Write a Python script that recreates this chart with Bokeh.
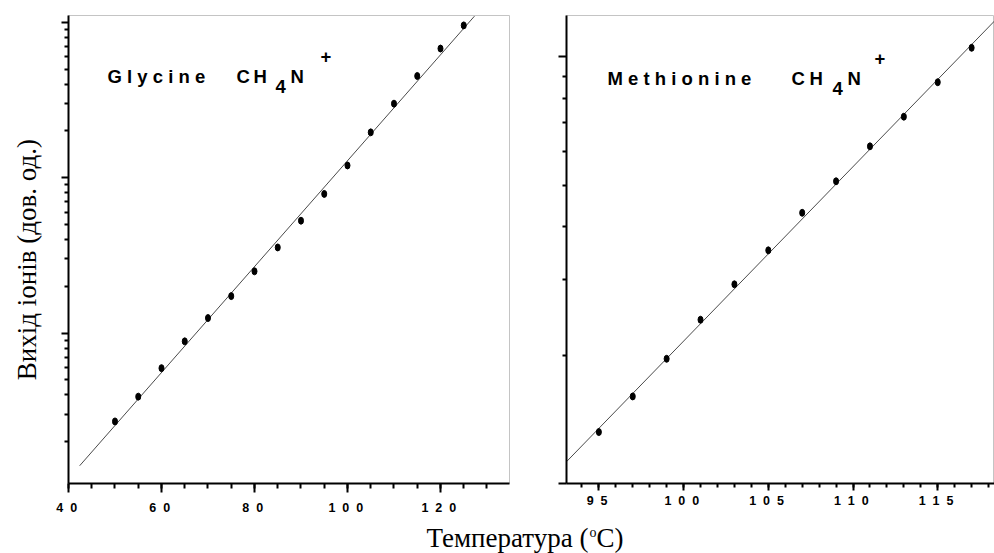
import math
from bokeh.plotting import figure
from bokeh.models import Range1d, Label, FixedTicker, SingleIntervalTicker
from bokeh.layouts import row, column
from bokeh.embed import file_html
from bokeh.resources import INLINE

# ---------------- data ----------------
glycine_temp = [50, 55, 60, 65, 70, 75, 80, 85, 90, 95, 100, 105, 110, 115, 120, 125]
glycine_yield = [2.70, 3.90, 5.95, 8.85, 12.5, 17.3, 25.0, 35.6, 52.9, 78.7, 120, 196, 300, 452, 679, 957]
glycine_fit_temp = [42.4, 127.3]
glycine_fit_yield = [1.40, 1097]

methionine_temp = [95, 97, 99, 101, 103, 105, 107, 109, 111, 113, 115, 117]
methionine_yield = [1.32, 1.60, 1.96, 2.42, 2.93, 3.52, 4.31, 5.11, 6.17, 7.24, 8.72, 10.5]
methionine_fit_temp = [93.09, 119.0]
methionine_fit_yield = [1.125, 12.9]

left_xticks = [40, 60, 80, 100, 120]
left_xtick_labels = ["4 0", "6 0", "8 0", "1 0 0", "1 2 0"]
right_xticks = [95, 100, 105, 110, 115]
right_xtick_labels = ["9 5", "1 0 0", "1 0 5", "1 1 0", "1 1 5"]
left_ydecades = [1, 10, 100, 1000]
right_ydecades = [1, 10]
right_ytick_values = [10, 1]
right_ytick_labels = ["10", "1"]

y_label = "Вихід іонів (дов. од.)"
x_label_main = "Температура ("
x_label_sup = "o"
x_label_end = "C)"

# ---------------- geometry ----------------
L1, R1, T1, B1 = 68, 509, 15, 487
X1 = (40, 134.84)
Y1 = (1.076, 1108)
L2, R2, T2, B2 = 566, 994, 11, 483
X2 = (93.09, 118.35)
Y2 = (1.0, 12.5)
ROW_H = 520

def spaced(s):
    return s.replace(" ", "\u00a0\u00a0") + "\u00a0"

def px_x(px, L, R, rng):
    return rng[0] + (px - L) * (rng[1] - rng[0]) / (R - L)

def px_ylog(py, T, B, rng):
    a, b = math.log10(rng[0]), math.log10(rng[1])
    return 10 ** (a + (B - py) * (b - a) / (B - T))

def log_minors(decades):
    return [d * k for d in decades for k in range(2, 10)]

TICK_FONT = "Liberation Sans"
TITLE_FONT = "Liberation Sans"
SERIF = "Liberation Serif"


def style_axes(p):
    p.grid.visible = False
    for ax in p.axis:
        ax.axis_line_color = "black"
        ax.axis_line_width = 2
        ax.major_tick_line_color = "black"
        ax.minor_tick_line_color = "black"
        ax.major_tick_line_width = 2
        ax.minor_tick_line_width = 2
        ax.major_tick_in = 0
        ax.minor_tick_in = 0
        ax.major_label_text_font = TICK_FONT
        ax.major_label_text_font_style = "bold"
        ax.major_label_text_font_size = "12.5px"
        ax.major_label_text_color = "black"


def hide_labels(ax):
    ax.major_label_text_font_size = "1px"
    ax.major_label_text_alpha = 0
    ax.major_label_standoff = 0


# ---------------- left panel ----------------
p1 = figure(width=543, height=ROW_H, x_range=Range1d(*X1), y_range=Range1d(*Y1),
            y_axis_type="log", output_backend="svg", toolbar_location=None,
            min_border_left=L1, min_border_right=543 - R1, min_border_top=T1,
            min_border_bottom=ROW_H - B1)
style_axes(p1)
p1.outline_line_color = "#c4c4c4"
p1.outline_line_width = 1
p1.xaxis.ticker = SingleIntervalTicker(interval=20, num_minor_ticks=4)
p1.xaxis.major_label_overrides = {t: spaced(s) for t, s in zip(left_xticks, left_xtick_labels)}
p1.xaxis.major_tick_out = 9
p1.xaxis.minor_tick_out = 5
p1.xaxis.major_label_standoff = 8
p1.yaxis.ticker = FixedTicker(ticks=left_ydecades, minor_ticks=log_minors(left_ydecades))
p1.yaxis.major_tick_out = 7
p1.yaxis.minor_tick_out = 4
for ax in p1.yaxis:
    hide_labels(ax)
    ax.axis_label = y_label + "\u00a0\u00a0\u00a0"
    ax.axis_label_text_font = SERIF
    ax.axis_label_text_font_style = "normal"
    ax.axis_label_text_font_size = "27px"
    ax.axis_label_text_color = "black"
    ax.axis_label_standoff = 20

p1.line(glycine_fit_temp, glycine_fit_yield, line_color="#4a4a4a", line_width=1)
p1.ellipse(glycine_temp, glycine_yield, width=5, height=7, width_units="screen",
           height_units="screen", fill_color="black", line_color="black")

def title_parts(p, fx, fy, word, wx, wy, cx, hx, fourx, fourb, nx, plusx, plusy):
    common = dict(text_font=TITLE_FONT, text_font_style="bold", text_font_size="18.5px",
                  text_color="black", text_baseline="alphabetic", text_align="left")
    p.add_layout(Label(x=fx(wx), y=fy(wy), text=word, **common))
    p.add_layout(Label(x=fx(cx), y=fy(wy), text="C", **common))
    p.add_layout(Label(x=fx(hx), y=fy(wy), text="H", **common))
    p.add_layout(Label(x=fx(fourx), y=fy(fourb), text="4", **common))
    p.add_layout(Label(x=fx(nx), y=fy(wy), text="N", **common))
    c2 = dict(common)
    c2["text_baseline"] = "middle"
    p.add_layout(Label(x=fx(plusx), y=fy(plusy), text="+", **c2))

f1x = lambda px: px_x(px, L1, R1, X1)
f1y = lambda py: px_ylog(py, T1, B1, Y1)
title_parts(p1, f1x, f1y, "G l y c i n e", 107, 77, 236, 253, 275, 87, 290, 320, 56)

# ---------------- right panel ----------------
W2 = 994 - 543
p2 = figure(width=W2, height=ROW_H, x_range=Range1d(*X2), y_range=Range1d(*Y2),
            y_axis_type="log", output_backend="svg", toolbar_location=None,
            min_border_left=L2 - 543, min_border_right=0, min_border_top=T2,
            min_border_bottom=ROW_H - B2)
style_axes(p2)
p2.outline_line_color = "#c4c4c4"
p2.outline_line_width = 1
p2.xaxis.ticker = SingleIntervalTicker(interval=5, num_minor_ticks=5)
p2.xaxis.major_label_overrides = {t: spaced(s) for t, s in zip(right_xticks, right_xtick_labels)}
p2.xaxis.major_tick_out = 7
p2.xaxis.minor_tick_out = 4
p2.xaxis.major_label_standoff = 3
p2.yaxis.ticker = FixedTicker(ticks=right_ydecades, minor_ticks=log_minors(right_ydecades))
p2.yaxis.major_tick_out = 8
p2.yaxis.minor_tick_out = 4
for ax in p2.yaxis:
    hide_labels(ax)

p2.line(methionine_fit_temp, methionine_fit_yield, line_color="#4a4a4a", line_width=1)
p2.ellipse(methionine_temp, methionine_yield, width=5, height=7, width_units="screen",
           height_units="screen", fill_color="black", line_color="black")

f2x = lambda px: px_x(px, L2, R2, X2)
f2y = lambda py: px_ylog(py, T2, B2, Y2)
title_parts(p2, f2x, f2y, "M e t h i o n i n e", 607, 75, 791, 809, 832, 85, 847, 874, 54)

# y tick labels of the right panel, partly cut by the panel edge (as in the source figure)
for v, s in zip(right_ytick_values, right_ytick_labels):
    p2.add_layout(Label(x=X2[0], y=v, x_offset=548 - L2, text=s, text_font=TICK_FONT,
                        text_font_style="bold", text_font_size="12.5px", text_align="right",
                        text_baseline="middle", text_color="black"))

# ---------------- bottom strip with x label ----------------
H3 = 553 - ROW_H
p3 = figure(width=994, height=H3, x_range=Range1d(0, 994), y_range=Range1d(0, H3),
            output_backend="svg", toolbar_location=None, min_border=0,
            x_axis_location=None, y_axis_location=None)
p3.grid.visible = False
p3.outline_line_color = None
base_y = 16
p3.add_layout(Label(x=588, y=base_y, text=x_label_main, text_font=SERIF, text_font_size="27px",
                    text_align="right", text_baseline="alphabetic", text_color="black"))
p3.add_layout(Label(x=589, y=base_y + 5, text=x_label_sup, text_font=SERIF, text_font_size="14px",
                    text_align="left", text_baseline="alphabetic", text_color="black"))
p3.add_layout(Label(x=596, y=base_y, text=x_label_end, text_font=SERIF, text_font_size="27px",
                    text_align="left", text_baseline="alphabetic", text_color="black"))

layout = column(row(p1, p2), p3)
open("out.html", "w").write(file_html(layout, INLINE))
